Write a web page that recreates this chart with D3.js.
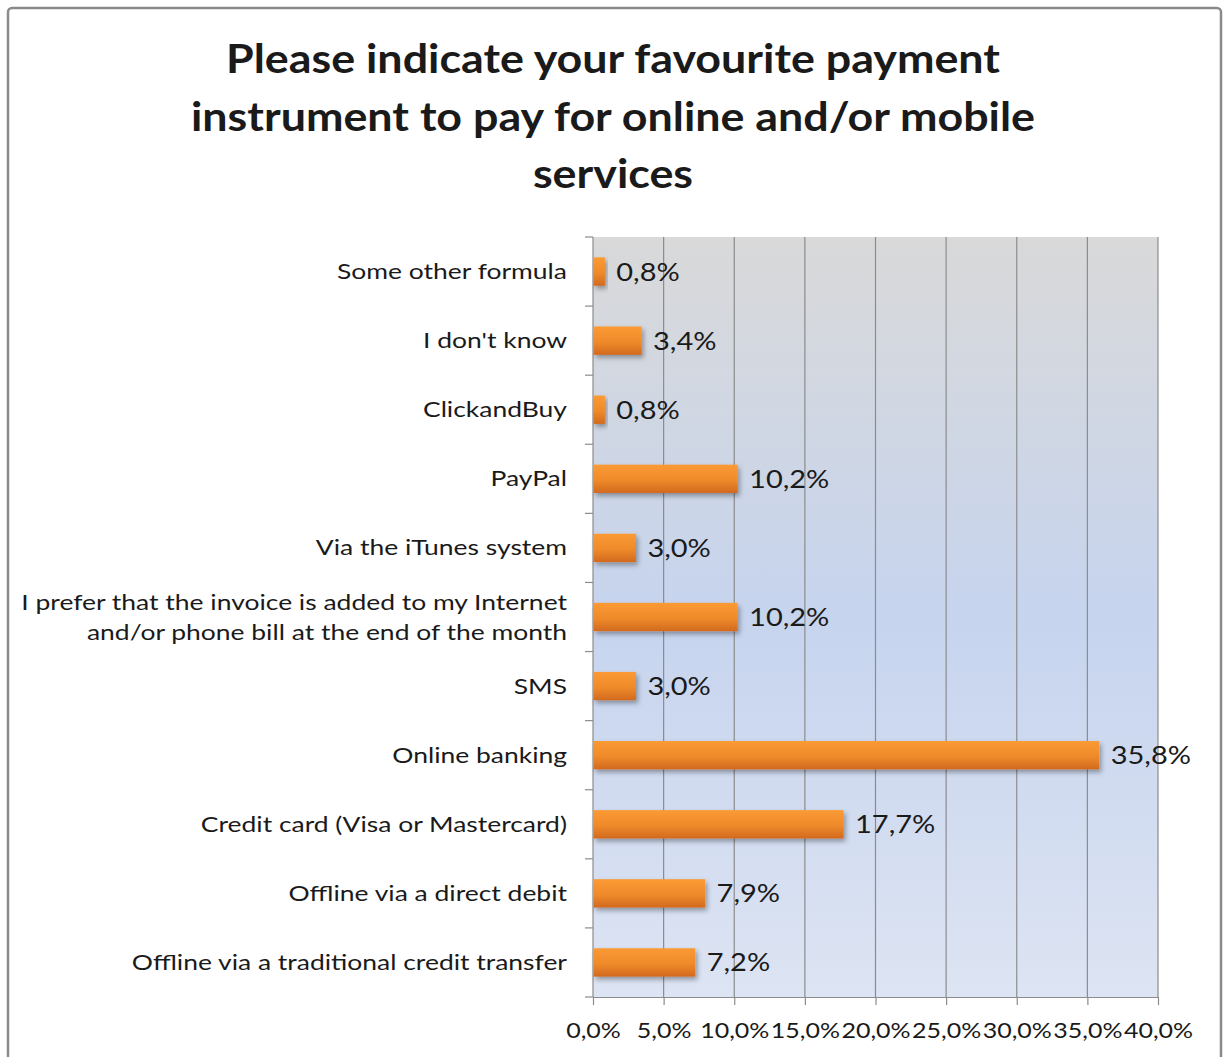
<!DOCTYPE html>
<html>
<head>
<meta charset="utf-8">
<script src="https://cdn.jsdelivr.net/npm/d3@7"></script>
<style>
  html, body { margin: 0; padding: 0; background: #fff; }
  svg { display: block; }
  text { font-family: Lato, "Open Sans", sans-serif; fill: #1a1a1a; }
</style>
</head>
<body>
<svg id="chart" width="1227" height="1057"></svg>
<script>
// Survey answers, listed top to bottom as drawn
const categories = [
  "Some other formula",
  "I don't know",
  "ClickandBuy",
  "PayPal",
  "Via the iTunes system",
  "I prefer that the invoice is added to my Internet\nand/or phone bill at the end of the month",
  "SMS",
  "Online banking",
  "Credit card (Visa or Mastercard)",
  "Offline via a direct debit",
  "Offline via a traditional credit transfer"
];
const values = [0.8, 3.4, 0.8, 10.2, 3.0, 10.2, 3.0, 35.8, 17.7, 7.9, 7.2];
const tickValues = [0, 5, 10, 15, 20, 25, 30, 35, 40];
const titleLines = [
  "Please indicate your favourite payment",
  "instrument to pay for online and/or mobile",
  "services"
];

const fmt = v => v.toFixed(1).replace(".", ",") + "%";

// Widen glyphs horizontally by a factor, keeping the anchor in place
function widen(sel, k) {
  sel.each(function () {
    const len = this.getComputedTextLength();
    d3.select(this).attr("textLength", len * k).attr("lengthAdjust", "spacingAndGlyphs");
  });
}

const svg = d3.select("#chart");
const plot = { left: 593, right: 1158, top: 237, bottom: 997 };

const defs = svg.append("defs");

// Plot area background: grey at top fading to soft blue
const bg = defs.append("linearGradient").attr("id", "plotBg")
  .attr("x1", 0).attr("y1", 0).attr("x2", 0).attr("y2", 1);
bg.append("stop").attr("offset", "0%").attr("stop-color", "#d9d9d9");
bg.append("stop").attr("offset", "50%").attr("stop-color", "#c6d4ee");
bg.append("stop").attr("offset", "100%").attr("stop-color", "#dde4f3");

// Bar fill: lighter orange on top, darker underneath
const barGrad = defs.append("linearGradient").attr("id", "barFill")
  .attr("x1", 0).attr("y1", 0).attr("x2", 0).attr("y2", 1);
barGrad.append("stop").attr("offset", "0%").attr("stop-color", "#fb9a34");
barGrad.append("stop").attr("offset", "55%").attr("stop-color", "#ef8a2a");
barGrad.append("stop").attr("offset", "100%").attr("stop-color", "#d2691e");

const shadow = defs.append("filter").attr("id", "barShadow")
  .attr("x", "-10%").attr("y", "-30%").attr("width", "130%").attr("height", "180%");
shadow.append("feDropShadow").attr("dx", 2).attr("dy", 3).attr("stdDeviation", 2.5)
  .attr("flood-color", "#000").attr("flood-opacity", 0.35);

// Outer chart frame
svg.append("rect")
  .attr("x", 8).attr("y", 8).attr("width", 1213).attr("height", 1070)
  .attr("rx", 4).attr("fill", "#fff")
  .attr("stroke", "#8a8a8a").attr("stroke-width", 2.5);

// Title
const title = svg.append("g").selectAll("text").data(titleLines).join("text")
  .attr("x", 613).attr("y", (d, i) => 73 + i * 57.5)
  .attr("text-anchor", "middle")
  .attr("font-size", 40).attr("font-weight", 700)
  .text(d => d);
widen(title, 1.12);

const x = d3.scaleLinear().domain([0, 40]).range([plot.left, plot.right]);
const y = d3.scaleBand().domain(categories).range([plot.top, plot.bottom]).paddingInner(0.59).paddingOuter(0.295);
const band = d3.scaleBand().domain(categories).range([plot.top, plot.bottom]);

svg.append("rect")
  .attr("x", plot.left).attr("y", plot.top)
  .attr("width", plot.right - plot.left).attr("height", plot.bottom - plot.top)
  .attr("fill", "url(#plotBg)");

// Vertical gridlines
svg.append("g").selectAll("line").data(tickValues.filter(t => t > 0)).join("line")
  .attr("x1", d => x(d)).attr("x2", d => x(d))
  .attr("y1", plot.top).attr("y2", plot.bottom)
  .attr("stroke", "#8c8c8c").attr("stroke-width", 1.2);

// Bottom axis
const xAxis = svg.append("g").attr("transform", `translate(0,${plot.bottom})`)
  .call(d3.axisBottom(x).tickValues(tickValues).tickFormat(d => fmt(d)).tickSize(8).tickSizeOuter(0));
xAxis.select(".domain").attr("stroke", "#8c8c8c").attr("stroke-width", 1.2);
xAxis.selectAll(".tick line").attr("stroke", "#8c8c8c").attr("stroke-width", 1.2);
const tickText = xAxis.selectAll(".tick text").attr("font-size", 21).attr("dy", 0).attr("y", 41)
  .attr("font-family", "Lato, sans-serif").attr("fill", "#1a1a1a");
widen(tickText, 1.19);

// Left axis with tick marks between categories
const leftAxis = svg.append("g");
leftAxis.append("line")
  .attr("x1", plot.left).attr("x2", plot.left)
  .attr("y1", plot.top).attr("y2", plot.bottom)
  .attr("stroke", "#8c8c8c").attr("stroke-width", 1.2);
const boundaries = categories.map(c => band(c)).concat([plot.bottom]);
leftAxis.selectAll("line.tk").data(boundaries).join("line").attr("class", "tk")
  .attr("x1", plot.left - 8).attr("x2", plot.left)
  .attr("y1", d => d).attr("y2", d => d)
  .attr("stroke", "#8c8c8c").attr("stroke-width", 1.2);

// Category labels, one text element per line
const labelLines = [];
categories.forEach(c => {
  const lines = c.split("\n");
  const cy = band(c) + band.bandwidth() / 2;
  lines.forEach((ln, i) => labelLines.push({ text: ln, y: cy + 7.5 + (i - (lines.length - 1) / 2) * 30 }));
});
const labels = svg.append("g").selectAll("text").data(labelLines).join("text")
  .attr("x", 567).attr("y", d => d.y)
  .attr("text-anchor", "end")
  .attr("font-size", 21.5)
  .text(d => d.text);
widen(labels, 1.23);

// Bars
svg.append("g").selectAll("rect").data(values).join("rect")
  .attr("x", x(0) + 0.6)
  .attr("y", (d, i) => y(categories[i]))
  .attr("width", d => x(d) - x(0))
  .attr("height", y.bandwidth())
  .attr("fill", "url(#barFill)")
  .attr("filter", "url(#barShadow)");

// Value labels
const valueLabels = svg.append("g").selectAll("text").data(values).join("text")
  .attr("x", d => x(d) + 12)
  .attr("y", (d, i) => band(categories[i]) + band.bandwidth() / 2 + 9)
  .attr("font-size", 25)
  .text(d => fmt(d));
widen(valueLabels, 1.16);
</script>
</body>
</html>
